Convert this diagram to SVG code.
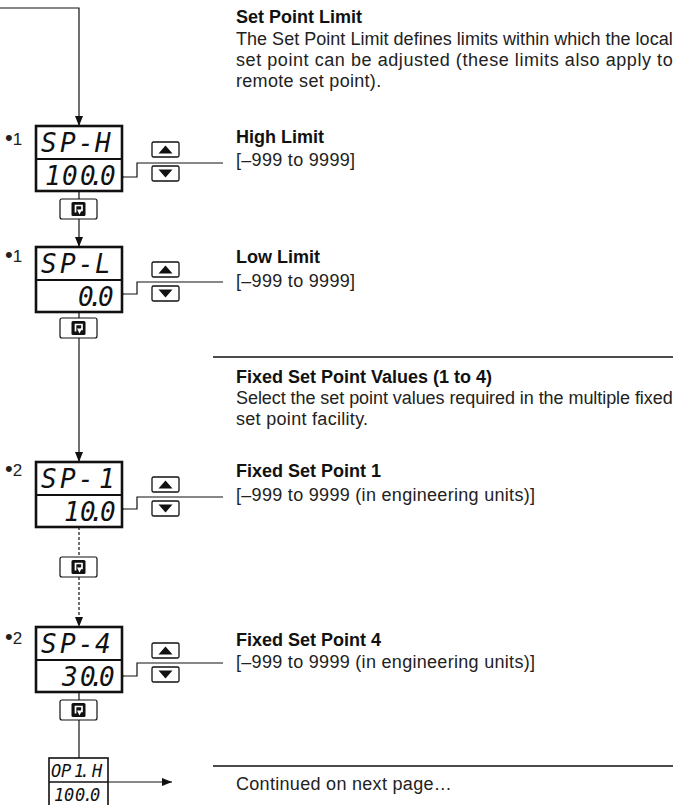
<svg xmlns="http://www.w3.org/2000/svg" width="677" height="805" viewBox="0 0 677 805">
<defs>
<marker id="arr" markerUnits="userSpaceOnUse" markerWidth="10" markerHeight="8" refX="10" refY="4" orient="auto">
<path d="M0 0 L10 4 L0 8 Z" fill="#111"/>
</marker>
<g id="enter">
<rect x="-18.5" y="-10" width="37" height="20" rx="2" fill="#fff" stroke="#111" stroke-width="1.2"/>
<rect x="-7" y="-7" width="14" height="14" rx="1.5" fill="#111"/>
<path d="M-3 3.5 V-3.5 H3.5 V1.5 H1.5" fill="none" stroke="#fff" stroke-width="1.7"/>
<path d="M-1.5 0.5 L3.5 0.5 L1 5.5 Z" fill="#fff"/>
</g>
<g id="updown">
<rect x="0" y="0" width="27" height="15" rx="1.5" fill="#fff" stroke="#111" stroke-width="1.3"/>
<path d="M6.5 11.5 L20.5 11.5 L13.5 3.5 Z" fill="#111"/>
<rect x="0" y="24" width="27" height="15" rx="1.5" fill="#fff" stroke="#111" stroke-width="1.3"/>
<path d="M6.5 27.5 L20.5 27.5 L13.5 35.5 Z" fill="#111"/>
</g>
</defs>
<style>
.txt{font-family:"Liberation Sans","Helvetica",Arial,sans-serif;font-size:18px;fill:#222;letter-spacing:0.3px}
.hd{font-family:"Liberation Sans","Helvetica",Arial,sans-serif;font-size:18px;font-weight:bold;fill:#111}
.bul{font-family:"Liberation Sans",Arial,sans-serif;font-size:17px;fill:#222}
.bul tspan{font-size:22px}
.seg{font-family:"DejaVu Sans Mono",monospace;font-style:italic;font-size:26px;fill:#111}
.segs{font-family:"DejaVu Sans Mono",monospace;font-style:italic;font-size:17px;fill:#111}
.box{fill:#fff;stroke:#111;stroke-width:2.6}
.div{stroke:#111;stroke-width:2.2}
.ln{fill:none;stroke:#111;stroke-width:1.2}
.dash{fill:none;stroke:#111;stroke-width:1.2;stroke-dasharray:3 2}
.rule{stroke:#111;stroke-width:1.3}
</style>
<g id="connectors">
<path class="ln" d="M0 8 H79 V126" marker-end="url(#arr)"/>
<path class="ln" d="M79 191 V199"/>
<path class="ln" d="M79 219 V247" marker-end="url(#arr)"/>
<path class="ln" d="M79 312 V318"/>
<path class="ln" d="M79 338 V462" marker-end="url(#arr)"/>
<path class="dash" d="M79 527 V557"/>
<path class="dash" d="M79 577 V627" marker-end="url(#arr)"/>
<path class="ln" d="M79 692 V700"/>
<path class="ln" d="M79 720 V758"/>
<path class="ln" d="M108 782 H172" marker-end="url(#arr)"/>
<path class="ln" d="M122 177 H137 V163 H223"/>
<path class="ln" d="M122 294 H137 V282 H223"/>
<path class="ln" d="M122 509 H137 V497 H223"/>
<path class="ln" d="M122 676 H137 V663 H223"/>
<circle cx="122" cy="177" r="1.5" fill="#111"/>
<circle cx="122" cy="294" r="1.5" fill="#111"/>
<circle cx="122" cy="509" r="1.5" fill="#111"/>
<circle cx="122" cy="676" r="1.5" fill="#111"/>
</g>
<g id="node-sph">
<rect class="box" x="36" y="126" width="86" height="65"/>
<line class="div" x1="36" y1="159" x2="122" y2="159"/>
<text class="seg" x="41 60 78 95" y="152">SP-H</text>
<text class="seg" x="45 62 80 89 100" y="185">100.0</text>
<text class="bul" x="5" y="145"><tspan>•</tspan>1</text>
<use href="#updown" x="152" y="142"/>
<use href="#enter" x="78.5" y="209"/>
</g>
<g id="node-spl">
<rect class="box" x="36" y="247" width="86" height="65"/>
<line class="div" x1="36" y1="280" x2="122" y2="280"/>
<text class="seg" x="41 60 78 95" y="273">SP-L</text>
<text class="seg" x="78 88 98" y="306">0.0</text>
<text class="bul" x="5" y="262"><tspan>•</tspan>1</text>
<use href="#updown" x="152" y="262"/>
<use href="#enter" x="78.5" y="328"/>
</g>
<g id="node-sp1">
<rect class="box" x="36" y="462" width="86" height="65"/>
<line class="div" x1="36" y1="495" x2="122" y2="495"/>
<text class="seg" x="41 60 78 99" y="488">SP-1</text>
<text class="seg" x="64 80 89 100" y="521">10.0</text>
<text class="bul" x="5" y="476"><tspan>•</tspan>2</text>
<use href="#updown" x="152" y="477"/>
<use href="#enter" x="78.5" y="567"/>
</g>
<g id="node-sp4">
<rect class="box" x="36" y="627" width="86" height="65"/>
<line class="div" x1="36" y1="660" x2="122" y2="660"/>
<text class="seg" x="41 60 78 95" y="653">SP-4</text>
<text class="seg" x="62 80 89 99" y="686">30.0</text>
<text class="bul" x="5" y="644"><tspan>•</tspan>2</text>
<use href="#updown" x="152" y="643"/>
<use href="#enter" x="78.5" y="710"/>
</g>
<g id="node-op1h">
<rect x="49" y="758" width="59" height="60" fill="#fff" stroke="#111" stroke-width="1.6"/>
<line x1="49" y1="782" x2="108" y2="782" stroke="#111" stroke-width="1.6"/>
<text class="segs" x="51 61 74 80 92" y="777">OP1.H</text>
<text class="segs" x="54 64 75 83 90" y="801">100.0</text>
</g>
<g id="text-setpointlimit">
<text class="hd" x="236" y="23">Set Point Limit</text>
<text class="txt" x="236" y="45" textLength="437" lengthAdjust="spacing">The Set Point Limit defines limits within which the local</text>
<text class="txt" x="236" y="66" textLength="437" lengthAdjust="spacing">set point can be adjusted (these limits also apply to</text>
<text class="txt" x="236" y="87">remote set point).</text>
</g>
<g id="text-high">
<text class="hd" x="236" y="143">High Limit</text>
<text class="txt" x="236" y="166">[–999 to 9999]</text>
</g>
<g id="text-low">
<text class="hd" x="236" y="263">Low Limit</text>
<text class="txt" x="236" y="287">[–999 to 9999]</text>
</g>
<line class="rule" x1="213" y1="357" x2="673" y2="357"/>
<g id="text-fixed">
<text class="hd" x="236" y="383">Fixed Set Point Values (1 to 4)</text>
<text class="txt" x="236" y="404" textLength="437" lengthAdjust="spacing">Select the set point values required in the multiple fixed</text>
<text class="txt" x="236" y="425">set point facility.</text>
</g>
<g id="text-fsp1">
<text class="hd" x="236" y="477">Fixed Set Point 1</text>
<text class="txt" x="236" y="501">[–999 to 9999 (in engineering units)]</text>
</g>
<g id="text-fsp4">
<text class="hd" x="236" y="646">Fixed Set Point 4</text>
<text class="txt" x="236" y="668">[–999 to 9999 (in engineering units)]</text>
</g>
<line class="rule" x1="213" y1="766" x2="673" y2="766"/>
<g id="text-continued">
<text class="txt" x="236" y="790">Continued on next page…</text>
</g>
</svg>
